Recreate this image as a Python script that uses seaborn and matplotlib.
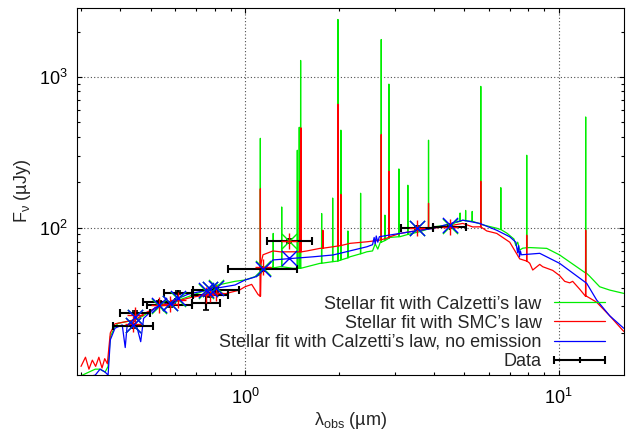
import numpy as np
import pandas as pd
import matplotlib
matplotlib.use("Agg")
import matplotlib.pyplot as plt
import seaborn as sns
from matplotlib.legend_handler import HandlerErrorbar
from matplotlib.ticker import LogLocator, NullFormatter, LogFormatterSciNotation

# ---------------- data ----------------
# Stellar fit with Calzetti's law (continuum)
calz_wl = [0.30, 0.333, 0.345, 0.358, 0.366, 0.372, 0.385, 0.394, 0.421, 0.447, 0.470, 0.517,
           0.598, 0.659, 0.730, 0.820, 0.929, 1.00, 1.116, 1.141, 1.228, 1.293, 1.422, 1.497,
           1.576, 1.733, 1.906, 2.160, 2.446, 2.55, 2.60, 2.65, 2.70, 2.896, 3.117, 3.608, 3.970,
           4.398, 4.947, 5.322, 5.603, 6.346, 6.829, 7.20, 7.30, 7.40, 7.512, 7.68, 8.084,
           9.158, 10.07, 12.28, 12.56, 13.51, 14.54, 16.11]
calz_f = [10.4, 11.5, 11.5, 11.0, 12.0, 18.9, 22.0, 23.2, 23.8, 24.5, 25.7, 29.2,
          32.3, 34.8, 37.6, 41.6, 44.0, 44.9, 48.5, 52.0, 54.5, 55.0, 53.7, 53.7,
          55.0, 57.9, 59.4, 64.0, 69.1, 70.0, 78.0, 72.0, 80.0, 86.0, 87.0, 94.0, 101.0,
          104.0, 112.0, 110.0, 106.0, 99.0, 92.0, 84.0, 76.0, 80.0, 71.0, 73.0, 73.7,
          72.8, 65.8, 49.7, 47.5, 40.5, 38.5, 36.6]
calz_line_wl = [1.119, 1.230, 1.309, 1.468, 1.489, 1.504, 1.755, 1.903, 1.978, 2.021, 2.128,
                2.336, 2.718, 2.792, 2.875, 3.094, 3.304, 3.846, 4.85, 5.05, 5.30, 5.644,
                6.538, 7.908, 12.19]
calz_line_base = [49, 54, 55, 53.7, 53.7, 53.7, 58, 59.4, 60, 61, 63,
                  67, 80, 82, 85, 87, 90, 98, 110, 111, 110, 105,
                  97, 73.5, 50]
calz_line_peak = [391, 91.5, 137, 326, 463, 1285, 124, 157, 2403, 443, 95,
                  169, 1770, 121, 895, 245, 191, 380, 125, 130, 128, 865,
                  184, 302, 542]

# Stellar fit with SMC's law (continuum)
smc_wl = [0.30, 0.31, 0.318, 0.326, 0.334, 0.342, 0.35, 0.357, 0.364, 0.372, 0.385, 0.406,
          0.447, 0.480, 0.544, 0.598, 0.678, 0.762, 0.864, 0.96, 1.00, 1.05, 1.10, 1.125,
          1.141, 1.228, 1.30, 1.422, 1.576, 1.733, 1.906, 2.160, 2.446, 2.633, 2.896, 3.117,
          3.608, 3.970, 4.398, 4.947, 5.32, 5.603, 5.898, 6.346, 6.982, 7.512, 8.084, 8.265,
          8.70, 8.893, 9.570, 10.07, 10.45, 10.84, 11.08, 11.67, 12.28, 13.21, 14.54, 16.11]
smc_f = [12.0, 13.8, 11.5, 13.2, 12.0, 13.8, 11.7, 13.5, 12.5, 20.0, 23.0, 23.5,
         24.5, 27.1, 30.7, 32.3, 34.5, 36.0, 36.4, 38.5, 40.5, 42.0, 36.0, 58.0,
         66.0, 70.0, 69.0, 69.1, 70.0, 72.8, 74.6, 78.6, 80.5, 82.0, 86.9, 91.5,
         96.3, 98.8, 102.0, 106.6, 101.0, 101.2, 95.0, 91.5, 80.0, 62.0, 58.0, 52.3,
         57.0, 55.0, 52.0, 48.0, 44.0, 43.0, 44.0, 39.0, 35.0, 32.0, 26.0, 20.5]
smc_line_wl = [1.119, 1.497, 1.508, 1.771, 1.978, 2.021, 2.718, 2.875, 3.846, 5.644, 7.908, 12.19]
smc_line_base = [35, 69, 69, 73, 75.5, 76, 83, 86, 98, 101, 60, 35]
smc_line_peak = [181, 203, 459, 96, 658, 166, 414, 237, 145, 203, 89, 96]

# Stellar fit with Calzetti's law, no emission
noem_wl = [0.30, 0.333, 0.345, 0.358, 0.366, 0.372, 0.385, 0.406, 0.415, 0.421, 0.447, 0.465,
           0.475, 0.517, 0.598, 0.659, 0.803, 0.929, 1.00, 1.076, 1.116, 1.16, 1.228, 1.42,
           1.647, 1.906, 2.007, 2.446, 2.55, 2.58, 2.60, 2.62, 2.65, 2.68, 3.117, 3.970,
           4.947, 5.603, 6.346, 6.982, 7.30, 7.40, 7.45, 7.50, 7.55, 7.60, 8.70, 10.07,
           12.28, 13.21, 14.54, 16.11]
noem_f = [10.0, 10.5, 11.5, 11.0, 10.5, 18.0, 21.5, 22.6, 16.0, 22.5, 24.0, 17.5,
          25.0, 29.5, 33.1, 36.2, 39.5, 41.6, 44.9, 47.0, 50.5, 54.0, 61.0, 62.5,
          64.0, 65.8, 67.5, 74.6, 77.0, 86.0, 78.0, 88.0, 80.0, 87.0, 91.5, 98.8,
          112.0, 106.6, 96.0, 86.9, 80.0, 68.0, 76.0, 64.0, 70.0, 66.0, 67.5, 57.9,
          42.7, 33.1, 26.0, 21.5]

# Photometric data
band_wl = [0.44, 0.446, 0.531, 0.575, 0.612, 0.807, 0.774, 0.751, 1.137, 1.386, 3.53, 4.50]
band_lo = [0.380, 0.400, 0.472, 0.487, 0.552, 0.681, 0.681, 0.676, 0.883, 1.175, 3.133, 3.970]
band_hi = [0.509, 0.498, 0.599, 0.678, 0.678, 0.957, 0.883, 0.833, 1.464, 1.634, 3.970, 5.080]
data_f = [22.3, 27.0, 32.0, 30.7, 37.0, 38.6, 35.7, 31.7, 52.8, 81.4, 100.0, 101.5]
data_ferr = [0.8, 0.8, 0.8, 0.8, 1.0, 1.0, 1.0, 3.5, 1.5, 2.0, 2.0, 2.0]

# Model fluxes in the bands
calz_band = [22.5, 25.7, 30.0, 31.5, 33.5, 40.5, 39.0, 38.0, 54.0, 81.0, 99.0, 102.0]
smc_band = [23.0, 26.5, 30.5, 31.0, 33.0, 37.0, 36.0, 35.5, 55.0, 82.0, 100.0, 101.0]
noem_band = [22.5, 25.5, 30.5, 31.5, 34.0, 40.0, 39.0, 38.5, 53.0, 63.0, 100.0, 104.0]

labels = ["Stellar fit with Calzetti\u2019s law",
          "Stellar fit with SMC\u2019s law",
          "Stellar fit with Calzetti\u2019s law, no emission",
          "Data"]
colors = ["#00ee00", "#ff0000", "#0000ff"]


def spectrum(wl, f, lwl=(), lbase=(), lpeak=()):
    """merge continuum samples and emission-line spikes into one spectrum"""
    xs = list(wl)
    ys = list(f)
    for w, b, p in zip(lwl, lbase, lpeak):
        xs += [w * 0.9990, w, w * 1.0010]
        ys += [b, p, b]
    order = np.argsort(xs)
    return np.asarray(xs)[order], np.asarray(ys)[order]


frames = []
for lab, args in zip(labels[:3], [
        (calz_wl, calz_f, calz_line_wl, calz_line_base, calz_line_peak),
        (smc_wl, smc_f, smc_line_wl, smc_line_base, smc_line_peak),
        (noem_wl, noem_f)]):
    x, y = spectrum(*args)
    frames.append(pd.DataFrame({"wl": x, "flux": y, "model": lab}))
spec = pd.concat(frames, ignore_index=True)

# ---------------- figure ----------------
sns.set_style("ticks")
plt.rcParams["font.family"] = ["Liberation Sans", "DejaVu Sans"]
plt.rcParams["mathtext.fontset"] = "custom"
plt.rcParams["mathtext.rm"] = "Liberation Sans"
plt.rcParams["mathtext.it"] = "Liberation Sans:italic"
plt.rcParams["mathtext.bf"] = "Liberation Sans:bold"
FS = 13

fig = plt.figure(figsize=(6.31, 4.30), dpi=100)
ax = fig.add_axes([77 / 631, 55.5 / 430, 547 / 631, 366.5 / 430])
ax.set_xscale("log")
ax.set_yscale("log")

sns.lineplot(data=spec, x="wl", y="flux", hue="model", hue_order=labels[:3],
             palette=dict(zip(labels[:3], colors)), estimator=None, sort=False,
             linewidth=0.9, legend=False, ax=ax, zorder=2)
line_handles = list(ax.lines[:3])

# data: horizontal (band width) bars with caps and a small centre tick ...
err = ax.errorbar(band_wl, data_f,
                  xerr=[np.subtract(band_wl, band_lo), np.subtract(band_hi, band_wl)],
                  linestyle="none", marker="|", markersize=5, markeredgewidth=1.5,
                  color="black", ecolor="black",
                  elinewidth=1.5, capsize=2.6, capthick=1.5, zorder=3)
# ... plus the flux uncertainties
ax.errorbar(band_wl, data_f, yerr=data_ferr, linestyle="none", ecolor="black",
            elinewidth=1.5, capsize=2.0, capthick=1.2, zorder=3)

for vals, col, mk in [(calz_band, colors[0], "x"),
                      (smc_band, colors[1], "+"),
                      (noem_band, colors[2], "x")]:
    sns.scatterplot(x=band_wl, y=vals, marker=mk, s=120, color=col,
                    linewidth=1.0, legend=False, ax=ax, zorder=4)

ax.set_xlim(0.2913, 16.15)
ax.set_ylim(10.6, 2864)

ax.xaxis.set_major_locator(LogLocator(base=10))
ax.yaxis.set_major_locator(LogLocator(base=10))
ax.xaxis.set_minor_locator(LogLocator(base=10, subs=np.arange(2, 10)))
ax.yaxis.set_minor_locator(LogLocator(base=10, subs=np.arange(2, 10)))
ax.xaxis.set_major_formatter(LogFormatterSciNotation())
ax.yaxis.set_major_formatter(LogFormatterSciNotation())
ax.xaxis.set_minor_formatter(NullFormatter())
ax.yaxis.set_minor_formatter(NullFormatter())
ax.tick_params(which="both", direction="in", top=True, right=True, width=0.8,
               colors="black", labelsize=FS)
ax.tick_params(which="major", length=3.8)
ax.tick_params(which="minor", length=2.3)
ax.tick_params(axis="x", which="major", pad=10)
ax.tick_params(axis="y", which="major", pad=7)
for sp in ax.spines.values():
    sp.set_linewidth(0.8)
    sp.set_color("black")
ax.grid(True, which="major", color="0.3", linestyle=(0, (1, 2)), linewidth=0.8)
ax.grid(False, which="minor")

ax.set_xlabel("\u03bb$_{\\mathregular{obs}}$ (\u00b5m)", fontsize=FS)
ax.set_ylabel("F$_{\\mathregular{\u03bd}}$ (\u00b5Jy)", fontsize=FS)
ax.xaxis.set_label_coords(0.5, -0.097)
ax.yaxis.set_label_coords(-0.080, 0.5)

leg = ax.legend(line_handles + [err], labels, loc="lower right",
                bbox_to_anchor=(0.965, 0.012), frameon=False, markerfirst=False,
                handlelength=2.8, handletextpad=0.7, labelspacing=0.12,
                borderaxespad=0, borderpad=0, fontsize=FS,
                handler_map={type(err): HandlerErrorbar(xerr_size=1.4)})
for col in leg._legend_handle_box.get_children():
    col.align = "right"

fig.savefig("out.png", dpi=100)
